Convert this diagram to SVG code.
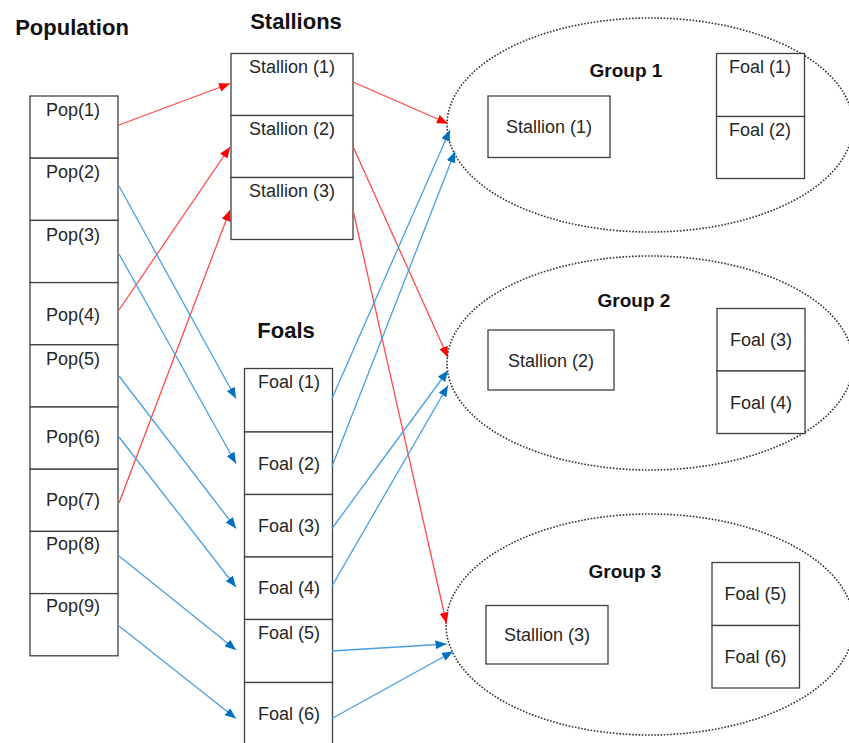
<svg xmlns="http://www.w3.org/2000/svg" width="849" height="743" viewBox="0 0 849 743">
<style>
.box{fill:#fff;stroke:#404040;stroke-width:1.3}
.t{font-family:"Liberation Sans",Arial,sans-serif;font-size:18px;fill:#262626;text-anchor:middle}
.h{font-family:"Liberation Sans",Arial,sans-serif;font-size:22px;font-weight:bold;fill:#111;text-anchor:middle}
.g{font-family:"Liberation Sans",Arial,sans-serif;font-size:19px;font-weight:bold;fill:#111;text-anchor:middle}
.ell{fill:none;stroke:#333;stroke-width:1.6;stroke-dasharray:1.6 1.6}
.r{stroke:#ff4a4a;stroke-width:1.3;fill:none;marker-end:url(#ar)}
.b{stroke:#4a9ee0;stroke-width:1.3;fill:none;marker-end:url(#ab)}
</style>
<defs>
<marker id="ar" markerUnits="userSpaceOnUse" markerWidth="12" markerHeight="10" refX="11" refY="4.5" orient="auto"><path d="M0,0 L11,4.5 L0,9 z" fill="#ff0000"/></marker>
<marker id="ab" markerUnits="userSpaceOnUse" markerWidth="12" markerHeight="10" refX="11" refY="4.5" orient="auto"><path d="M0,0 L11,4.5 L0,9 z" fill="#0070c0"/></marker>
</defs>
<rect width="849" height="743" fill="#fff"/>
<text class="h" x="72" y="35">Population</text>
<text class="h" x="296" y="29">Stallions</text>
<text class="h" x="286" y="338">Foals</text>
<g id="population">
<g id="pop1"><rect class="box" x="30" y="96" width="88" height="62.2"/><text class="t" x="73" y="116">Pop(1)</text></g>
<g id="pop2"><rect class="box" x="30" y="158.2" width="88" height="62.2"/><text class="t" x="73" y="178">Pop(2)</text></g>
<g id="pop3"><rect class="box" x="30" y="220.4" width="88" height="62.2"/><text class="t" x="73" y="241">Pop(3)</text></g>
<g id="pop4"><rect class="box" x="30" y="282.6" width="88" height="62.2"/><text class="t" x="73" y="321">Pop(4)</text></g>
<g id="pop5"><rect class="box" x="30" y="344.8" width="88" height="62.2"/><text class="t" x="73" y="365">Pop(5)</text></g>
<g id="pop6"><rect class="box" x="30" y="407" width="88" height="62.2"/><text class="t" x="73" y="443">Pop(6)</text></g>
<g id="pop7"><rect class="box" x="30" y="469.2" width="88" height="62.2"/><text class="t" x="73" y="506">Pop(7)</text></g>
<g id="pop8"><rect class="box" x="30" y="531.4" width="88" height="62.2"/><text class="t" x="73" y="550">Pop(8)</text></g>
<g id="pop9"><rect class="box" x="30" y="593.6" width="88" height="62.2"/><text class="t" x="73" y="612">Pop(9)</text></g>
</g>
<g id="stallions">
<g id="stallion1"><rect class="box" x="231" y="53.5" width="122" height="62"/><text class="t" x="292" y="73">Stallion (1)</text></g>
<g id="stallion2"><rect class="box" x="231" y="115.5" width="122" height="62"/><text class="t" x="292" y="135">Stallion (2)</text></g>
<g id="stallion3"><rect class="box" x="231" y="177.5" width="122" height="62"/><text class="t" x="292" y="197">Stallion (3)</text></g>
</g>
<g id="foals">
<g id="foal1"><rect class="box" x="244.5" y="368.5" width="88" height="63.5"/><text class="t" x="289" y="388">Foal (1)</text></g>
<g id="foal2"><rect class="box" x="244.5" y="432" width="88" height="62.5"/><text class="t" x="289" y="470">Foal (2)</text></g>
<g id="foal3"><rect class="box" x="244.5" y="494.5" width="88" height="62.5"/><text class="t" x="289" y="532">Foal (3)</text></g>
<g id="foal4"><rect class="box" x="244.5" y="557" width="88" height="62.5"/><text class="t" x="289" y="594">Foal (4)</text></g>
<g id="foal5"><rect class="box" x="244.5" y="619.5" width="88" height="63"/><text class="t" x="289" y="639">Foal (5)</text></g>
<g id="foal6"><rect class="box" x="244.5" y="682.5" width="88" height="64"/><text class="t" x="289" y="720">Foal (6)</text></g>
</g>
<g id="group1">
<ellipse class="ell" cx="650" cy="125" rx="203" ry="107"/>
<text class="g" x="626" y="77">Group 1</text>
<rect class="box" x="488" y="96" width="122" height="61.5"/><text class="t" x="549" y="133">Stallion (1)</text>
<rect class="box" x="716.5" y="53.5" width="88" height="63"/><text class="t" x="760" y="73">Foal (1)</text>
<rect class="box" x="716.5" y="116.5" width="88" height="62"/><text class="t" x="760" y="136">Foal (2)</text>
</g>
<g id="group2">
<ellipse class="ell" cx="650" cy="363" rx="203" ry="107"/>
<text class="g" x="634" y="307">Group 2</text>
<rect class="box" x="488" y="330" width="126" height="60"/><text class="t" x="551" y="367">Stallion (2)</text>
<rect class="box" x="717" y="308.5" width="88" height="62.5"/><text class="t" x="761" y="346">Foal (3)</text>
<rect class="box" x="717" y="371" width="88" height="62.5"/><text class="t" x="761" y="409">Foal (4)</text>
</g>
<g id="group3">
<ellipse class="ell" cx="650" cy="624.5" rx="204" ry="110.5"/>
<text class="g" x="625" y="578">Group 3</text>
<rect class="box" x="486" y="605.5" width="122" height="58.5"/><text class="t" x="547" y="641">Stallion (3)</text>
<rect class="box" x="712" y="562.5" width="87.5" height="63"/><text class="t" x="755.5" y="600">Foal (5)</text>
<rect class="box" x="712" y="625.5" width="87.5" height="62.5"/><text class="t" x="755.5" y="663">Foal (6)</text>
</g>
<g id="connectors">
<line class="r" x1="119" y1="125" x2="230" y2="83.5"/>
<line class="r" x1="119" y1="310" x2="230" y2="147"/>
<line class="r" x1="119" y1="503" x2="230" y2="210"/>
<line class="r" x1="353" y1="82" x2="448" y2="123.5"/>
<line class="r" x1="353" y1="146.5" x2="448" y2="357.5"/>
<line class="r" x1="353" y1="210" x2="446.5" y2="623.5"/>
<line class="b" x1="119" y1="186" x2="236" y2="398.5"/>
<line class="b" x1="119" y1="254" x2="236" y2="463.5"/>
<line class="b" x1="119" y1="376" x2="236" y2="528.5"/>
<line class="b" x1="119" y1="437" x2="236" y2="587"/>
<line class="b" x1="119" y1="556" x2="236" y2="650"/>
<line class="b" x1="119" y1="626" x2="236" y2="718.5"/>
<line class="b" x1="332" y1="398.5" x2="450" y2="130"/>
<line class="b" x1="332" y1="466.5" x2="455" y2="151.5"/>
<line class="b" x1="332" y1="528.5" x2="448" y2="370.5"/>
<line class="b" x1="332" y1="586" x2="448" y2="385.5"/>
<line class="b" x1="332" y1="651" x2="446.5" y2="644"/>
<line class="b" x1="332" y1="718.5" x2="453" y2="651.5"/>
</g>
</svg>
